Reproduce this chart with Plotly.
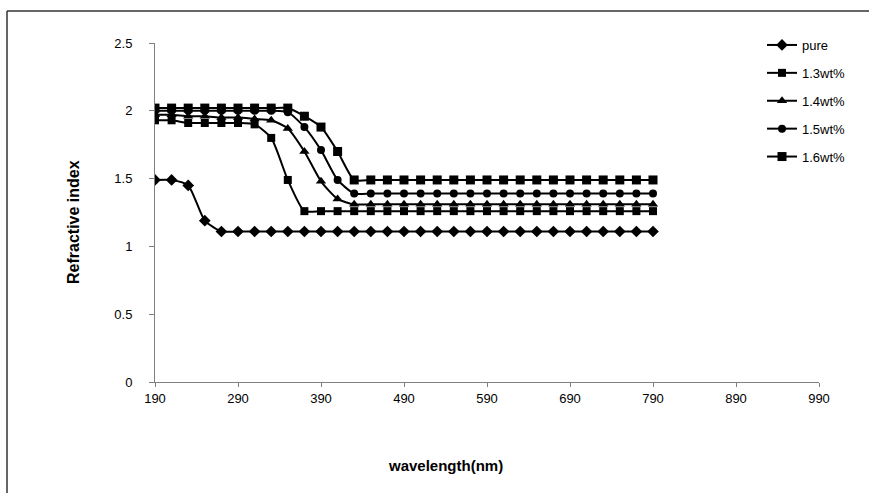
import plotly.graph_objects as go

wavelength = list(range(190, 791, 20))

pure = [1.49, 1.49, 1.45, 1.19] + [1.11] * 27
wt13 = [1.93, 1.93, 1.91, 1.91, 1.91, 1.91, 1.90, 1.80, 1.49, 1.26] + [1.26] * 21
wt14 = [1.97, 1.97, 1.96, 1.96, 1.95, 1.95, 1.94, 1.93, 1.87, 1.70, 1.48, 1.35] + [1.31] * 19
wt15 = [2.00, 2.00, 2.00, 2.00, 2.00, 2.00, 2.00, 2.00, 1.99, 1.88, 1.71, 1.49] + [1.39] * 19
wt16 = [2.02] * 9 + [1.96, 1.88, 1.70] + [1.49] * 19

series = [
    ("pure", pure, "diamond", 9),
    ("1.3wt%", wt13, "square", 8),
    ("1.4wt%", wt14, "triangle-up", 9),
    ("1.5wt%", wt15, "circle", 8),
    ("1.6wt%", wt16, "square", 9),
]

x_ticks = list(range(190, 991, 100))
y_ticks = [0, 0.5, 1, 1.5, 2, 2.5]

fig = go.Figure()
for name, vals, sym, sz in series:
    fig.add_trace(go.Scatter(
        x=wavelength, y=vals, name=name, legendgroup=name, mode="lines+markers",
        line=dict(color="black", width=2, shape="spline", smoothing=0.6),
        marker=dict(symbol=sym, size=sz, color="black"),
    ))

L, R, T, B = 155, 50, 43, 111
W, H = 869, 493
pw, ph = W - L - R, H - T - B

def px_x(px):
    return (px - L) / pw

def px_y(py):
    return (H - B - py) / ph

fig.update_layout(
    width=W, height=H,
    margin=dict(l=L, r=R, t=T, b=B),
    paper_bgcolor="white", plot_bgcolor="white",
    font=dict(family="Liberation Sans, Arial", size=13, color="black"),
    showlegend=True,
    legend=dict(
        x=px_x(762), y=px_y(30), xanchor="left", yanchor="top",
        font=dict(size=13), tracegroupgap=8, itemwidth=30,
        bgcolor="rgba(0,0,0,0)",
    ),
    xaxis=dict(
        range=[190, 990], tickvals=x_ticks, ticktext=[str(v) for v in x_ticks],
        showgrid=False, zeroline=False, showline=True, linecolor="#808080",
        linewidth=1, ticks="outside", ticklen=4, tickcolor="#808080",
        tickfont=dict(size=13), ticklabelstandoff=0,
    ),
    yaxis=dict(
        range=[0, 2.5], tickvals=y_ticks, ticktext=["0", "0.5", "1", "1.5", "2", "2.5"],
        showgrid=False, zeroline=False, showline=True, linecolor="#808080",
        linewidth=1, ticks="outside", ticklen=5, tickcolor="#808080",
        tickfont=dict(size=13), ticklabelstandoff=14,
    ),
    annotations=[
        dict(text="<b>wavelength(nm)</b>", x=px_x(445), y=px_y(465),
             xref="paper", yref="paper", showarrow=False,
             font=dict(size=15), xanchor="center", yanchor="middle"),
        dict(text="<b>Refractive index</b>", x=px_x(73), y=px_y(222),
             xref="paper", yref="paper", showarrow=False, textangle=-90,
             font=dict(size=16), xanchor="center", yanchor="middle"),
    ],
    shapes=[
        dict(type="line", xref="paper", yref="paper",
             x0=px_x(7), x1=px_x(869), y0=px_y(11), y1=px_y(11),
             line=dict(color="#333333", width=1.5)),
        dict(type="line", xref="paper", yref="paper",
             x0=px_x(7), x1=px_x(7), y0=px_y(11), y1=px_y(493),
             line=dict(color="#333333", width=1.5)),
    ],
)

fig.write_html("out.html")
